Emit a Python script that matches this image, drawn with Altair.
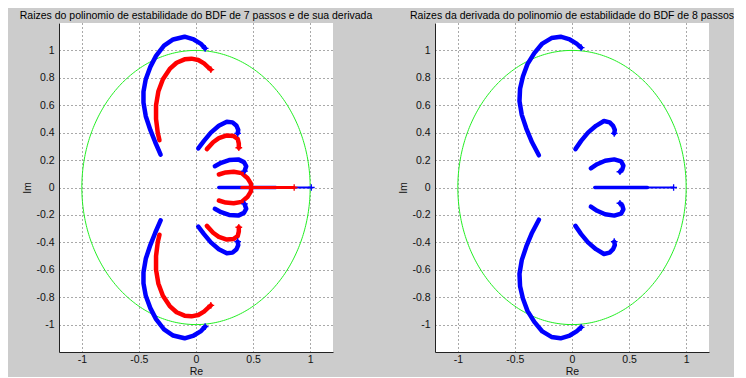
import altair as alt
import numpy as np
import pandas as pd

# ---------------- data ----------------
# Left panel (BDF 7): blue = roots of stability polynomial, red = roots of its derivative
L_B1_X = [-0.31, -0.357, -0.40, -0.44, -0.46, -0.46, -0.44, -0.40, -0.35, -0.28, -0.20, -0.10, -0.02, 0.04, 0.08]
L_B1_Y = [0.24, 0.33, 0.42, 0.52, 0.62, 0.70, 0.79, 0.88, 0.96, 1.035, 1.08, 1.10, 1.08, 1.05, 1.015]
L_B1N_Y = [-0.24, -0.33, -0.42, -0.52, -0.62, -0.70, -0.79, -0.88, -0.96, -1.035, -1.08, -1.10, -1.08, -1.05, -1.015]

L_R1_X = [-0.32, -0.335, -0.35, -0.35, -0.33, -0.29, -0.23, -0.17, -0.10, -0.04, 0.02, 0.07, 0.11, 0.13]
L_R1_Y = [0.345, 0.40, 0.50, 0.60, 0.70, 0.79, 0.865, 0.91, 0.935, 0.94, 0.93, 0.905, 0.875, 0.86]
L_R1N_Y = [-0.345, -0.40, -0.50, -0.60, -0.70, -0.79, -0.865, -0.91, -0.935, -0.94, -0.93, -0.905, -0.875, -0.86]

L_B2_X = [0.02, 0.07, 0.13, 0.20, 0.27, 0.32, 0.355, 0.37, 0.365]
L_B2_Y = [0.285, 0.34, 0.40, 0.45, 0.48, 0.475, 0.45, 0.42, 0.395]
L_B2N_Y = [-0.285, -0.34, -0.40, -0.45, -0.48, -0.475, -0.45, -0.42, -0.395]

L_R2_X = [0.095, 0.15, 0.20, 0.27, 0.33, 0.365, 0.375, 0.375]
L_R2_Y = [0.28, 0.33, 0.36, 0.38, 0.375, 0.355, 0.32, 0.29]
L_R2N_Y = [-0.28, -0.33, -0.36, -0.38, -0.375, -0.355, -0.32, -0.29]

L_B3_X = [0.165, 0.22, 0.29, 0.37, 0.42, 0.44, 0.425]
L_B3_Y = [0.155, 0.18, 0.20, 0.205, 0.185, 0.155, 0.12]
L_B3N_Y = [-0.155, -0.18, -0.20, -0.205, -0.185, -0.155, -0.12]

L_R3_X = [0.20, 0.26, 0.33, 0.40, 0.45, 0.48, 0.485, 0.48, 0.45, 0.40, 0.33, 0.26, 0.20]
L_R3_Y = [0.095, 0.11, 0.115, 0.105, 0.07, 0.03, 0.0, -0.03, -0.07, -0.105, -0.115, -0.11, -0.095]

L_BH_X = [0.20, 0.70]
L_BH2_X = [0.70, 1.01]
L_RH_X = [0.40, 0.86]

# Right panel (derivative of BDF 8 stability polynomial)
R_B1_X = [-0.29, -0.35, -0.40, -0.44, -0.46, -0.455, -0.43, -0.39, -0.33, -0.26, -0.18, -0.10, -0.02, 0.04, 0.08]
R_B1_Y = [0.235, 0.33, 0.43, 0.53, 0.63, 0.72, 0.81, 0.90, 0.98, 1.05, 1.09, 1.10, 1.08, 1.05, 1.02]
R_B1N_Y = [-0.235, -0.33, -0.43, -0.53, -0.63, -0.72, -0.81, -0.90, -0.98, -1.05, -1.09, -1.10, -1.08, -1.05, -1.02]

R_B2_X = [0.03, 0.08, 0.14, 0.21, 0.28, 0.33, 0.36, 0.375, 0.37]
R_B2_Y = [0.28, 0.34, 0.40, 0.45, 0.485, 0.475, 0.45, 0.42, 0.395]
R_B2N_Y = [-0.28, -0.34, -0.40, -0.45, -0.485, -0.475, -0.45, -0.42, -0.395]

R_B3_X = [0.165, 0.22, 0.29, 0.37, 0.43, 0.45, 0.44, 0.42]
R_B3_Y = [0.14, 0.17, 0.195, 0.205, 0.19, 0.16, 0.13, 0.115]
R_B3N_Y = [-0.14, -0.17, -0.195, -0.205, -0.19, -0.16, -0.13, -0.115]

R_BH_X = [0.20, 0.66]
R_BH2_X = [0.66, 0.89]

X_TICKS = [-1, -0.5, 0, 0.5, 1]
Y_TICKS = [-1, -0.8, -0.6, -0.4, -0.2, 0, 0.2, 0.4, 0.6, 0.8, 1]
TITLE_L = "Raizes do polinomio de estabilidade do BDF de 7 passos e de sua derivada"
TITLE_R = "Raizes da derivada do polinomio de estabilidade do BDF de 8 passos"

# curves whose last point carries a "+" marker
END_MARKED = ["b1", "b1n", "b2", "b2n", "b3", "b3n", "bh2", "r1", "r1n", "r2", "r2n", "rh"]

BLUE = "#0000ff"
RED = "#ff0000"
GREEN = "#22ee22"
FONT = "Liberation Sans"
FS = 10.5

# ---------------- build tables ----------------
def curve_rows(key, color, width, xs, ys):
    return [dict(key=key, color=color, w=width, i=i, x=x, y=y) for i, (x, y) in enumerate(zip(xs, ys))]

left_rows = []
left_rows += curve_rows("b1", BLUE, 4.5, L_B1_X, L_B1_Y)
left_rows += curve_rows("b1n", BLUE, 4.5, L_B1_X, L_B1N_Y)
left_rows += curve_rows("b2", BLUE, 4.5, L_B2_X, L_B2_Y)
left_rows += curve_rows("b2n", BLUE, 4.5, L_B2_X, L_B2N_Y)
left_rows += curve_rows("b3", BLUE, 4.5, L_B3_X, L_B3_Y)
left_rows += curve_rows("b3n", BLUE, 4.5, L_B3_X, L_B3N_Y)
left_rows += curve_rows("bh", BLUE, 3.5, L_BH_X, [0, 0])
left_rows += curve_rows("bh2", BLUE, 2.0, L_BH2_X, [0, 0])
left_rows += curve_rows("r1", RED, 4.5, L_R1_X, L_R1_Y)
left_rows += curve_rows("r1n", RED, 4.5, L_R1_X, L_R1N_Y)
left_rows += curve_rows("r2", RED, 4.5, L_R2_X, L_R2_Y)
left_rows += curve_rows("r2n", RED, 4.5, L_R2_X, L_R2N_Y)
left_rows += curve_rows("r3", RED, 4.5, L_R3_X, L_R3_Y)
left_rows += curve_rows("rh", RED, 3.0, L_RH_X, [0, 0])
left_df = pd.DataFrame(left_rows)

right_rows = []
right_rows += curve_rows("b1", BLUE, 4.5, R_B1_X, R_B1_Y)
right_rows += curve_rows("b1n", BLUE, 4.5, R_B1_X, R_B1N_Y)
right_rows += curve_rows("b2", BLUE, 4.5, R_B2_X, R_B2_Y)
right_rows += curve_rows("b2n", BLUE, 4.5, R_B2_X, R_B2N_Y)
right_rows += curve_rows("b3", BLUE, 4.5, R_B3_X, R_B3_Y)
right_rows += curve_rows("b3n", BLUE, 4.5, R_B3_X, R_B3N_Y)
right_rows += curve_rows("bh", BLUE, 3.5, R_BH_X, [0, 0])
right_rows += curve_rows("bh2", BLUE, 2.0, R_BH2_X, [0, 0])
right_df = pd.DataFrame(right_rows)

# unit circle |z| = 1
theta = np.linspace(0, 2 * np.pi, 361)
circle_df = pd.DataFrame({"i": np.arange(theta.size), "x": np.cos(theta), "y": np.sin(theta)})

DOM = [-1.2, 1.2]
label_expr = "'' + datum.value"

x_enc = alt.X("x:Q", scale=alt.Scale(domain=DOM, nice=False, zero=False),
              axis=alt.Axis(values=X_TICKS, labelExpr=label_expr, title="Re"))
y_enc = alt.Y("y:Q", scale=alt.Scale(domain=DOM, nice=False, zero=False),
              axis=alt.Axis(values=Y_TICKS, labelExpr=label_expr, title="Im"))


def panel(df, title):
    circle = alt.Chart(circle_df).mark_line(color=GREEN, strokeWidth=1).encode(
        x=x_enc, y=y_enc, order="i:Q")
    lines = alt.Chart(df).mark_line(strokeCap="round", strokeJoin="round").encode(
        x=x_enc, y=y_enc,
        detail="key:N", order="i:Q",
        color=alt.Color("color:N", scale=None),
        strokeWidth=alt.StrokeWidth("w:Q", scale=None),
    )
    last = df.loc[df.groupby("key")["i"].idxmax()]
    ends = last[last["key"].isin(END_MARKED)]
    marks = alt.Chart(ends).mark_point(
        shape="M-1,0L1,0M0,-1L0,1", size=45, strokeWidth=1.3, filled=False, opacity=1
    ).encode(x=x_enc, y=y_enc, color=alt.Color("color:N", scale=None))
    return alt.layer(circle, lines, marks).properties(
        width=274, height=329,
        title=alt.TitleParams(title, fontSize=FS, font=FONT, fontWeight="normal",
                              anchor="middle", color="#000000", offset=2),
    )


chart = alt.hconcat(
    panel(left_df, TITLE_L), panel(right_df, TITLE_R), spacing=102, bounds="flush"
).properties(
    padding={"left": 11, "top": 2, "right": 0, "bottom": 0},
    background="#cccccc",
).configure_view(
    fill="#ffffff", stroke=None
).configure_axis(
    labelFont=FONT, titleFont=FONT, labelFontSize=FS, titleFontSize=FS,
    titleFontWeight="normal", labelColor="#111111", titleColor="#111111",
    domainColor="#222222", domainWidth=1, ticks=False, tickSize=0,
    grid=True, gridDash=[1, 3], gridColor="#404040", gridOpacity=0.9,
    labelPadding=4, titlePadding=3,
).configure_axisX(labelPadding=2, titlePadding=2).configure_axisY(labelPadding=5)

chart.save("out.html", embed_options={"renderer": "svg", "actions": False})
